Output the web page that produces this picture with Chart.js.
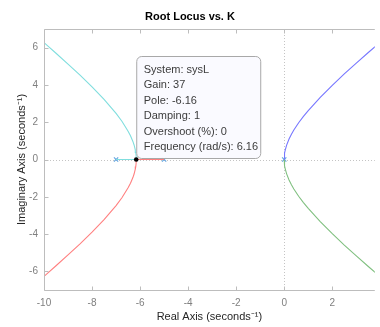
<!DOCTYPE html>
<html>
<head>
<meta charset="utf-8">
<script src="https://cdn.jsdelivr.net/npm/chart.js@4"></script>
<style>
  html, body { margin: 0; padding: 0; background: #fff; }
  #wrap { width: 380px; height: 327px; }
</style>
</head>
<body>
<div id="wrap"><canvas id="rl" width="380" height="327"></canvas></div>
<script>
// --- DATA ---
const xTicks = [-10, -8, -6, -4, -2, 0, 2];
const yTicks = [-6, -4, -2, 0, 2, 4, 6];
const poleRe = [-7, -5, 0];
const poleIm = [0, 0, 0];

// branches leaving the breakaway point towards the left
const leftRe = [-6.16, -6.165, -6.18, -6.2, -6.25, -6.3, -6.4, -6.5, -6.75, -7, -7.5, -8, -8.5, -9, -9.5, -10];
const upLeftIm = [0, 0.21, 0.38, 0.52, 0.78, 0.97, 1.27, 1.52, 2.04, 2.47, 3.23, 3.90, 4.53, 5.12, 5.70, 6.27];
const lowLeftIm = [0, -0.21, -0.38, -0.52, -0.78, -0.97, -1.27, -1.52, -2.04, -2.47, -3.23, -3.90, -4.53, -5.12, -5.70, -6.27];

// branches leaving the double pole at the origin
const rightRe = [0, 0.005, 0.02, 0.05, 0.1, 0.2, 0.3, 0.4, 0.6, 0.8, 1, 1.5, 2, 2.5, 3, 3.5, 4];
const upRightIm = [0, 0.17, 0.34, 0.54, 0.77, 1.10, 1.36, 1.58, 1.97, 2.31, 2.62, 3.33, 3.98, 4.59, 5.17, 5.74, 6.30];
const lowRightIm = [0, -0.17, -0.34, -0.54, -0.77, -1.10, -1.36, -1.58, -1.97, -2.31, -2.62, -3.33, -3.98, -4.59, -5.17, -5.74, -6.30];

// real-axis pieces between the two left poles
const cyanAxisRe = [-7, -6.16];
const redAxisRe = [-5, -6.16];

const tip = { re: -6.16, im: 0 };
const tipLines = ["System: sysL", "Gain: 37", "Pole: -6.16", "Damping: 1", "Overshoot (%): 0", "Frequency (rad/s): 6.16"];

const FONT = "'Liberation Sans', Arial, Helvetica, sans-serif";
const pts = (xs, ys) => xs.map((x, i) => ({ x, y: ys[i] }));
const line = (data, color) => ({ data, borderColor: color, borderWidth: 1.1, showLine: true, pointRadius: 0, tension: 0, fill: false });

// --- PLUGINS ---
const axesDeco = {
    id: "axesDeco",
    beforeDatasetsDraw(chart) {
        const { ctx, chartArea: a, scales: { x, y } } = chart;
        ctx.save();
        ctx.strokeStyle = "#c4c4c4";
        ctx.lineWidth = 1;
        ctx.setLineDash([1, 2]);
        const x0 = Math.round(x.getPixelForValue(0)) + 0.5, y0 = Math.round(y.getPixelForValue(0)) + 0.5;
        ctx.beginPath();
        ctx.moveTo(x0, a.top); ctx.lineTo(x0, a.bottom);
        ctx.moveTo(a.left, y0); ctx.lineTo(a.right, y0);
        ctx.stroke();
        ctx.restore();
    },
    afterDatasetsDraw(chart) {
        const { ctx, chartArea: a, scales: { x, y } } = chart;
        ctx.save();
        ctx.strokeStyle = "#bdbdbd";
        ctx.lineWidth = 1;
        const L = Math.round(a.left) + 0.5, T = Math.round(a.top) + 0.5, B = Math.round(a.bottom) + 0.5;
        ctx.beginPath();
        ctx.moveTo(a.right, T); ctx.lineTo(L, T); ctx.lineTo(L, B); ctx.lineTo(a.right, B);
        xTicks.forEach(v => {
            const px = Math.round(x.getPixelForValue(v)) + 0.5;
            ctx.moveTo(px, B); ctx.lineTo(px, B - 4);
            ctx.moveTo(px, T); ctx.lineTo(px, T + 4);
        });
        yTicks.forEach(v => {
            const py = Math.round(y.getPixelForValue(v)) + 0.5;
            ctx.moveTo(L, py); ctx.lineTo(L + 4, py);
        });
        ctx.stroke();
        ctx.restore();
    },
    afterDraw(chart) {
        const { ctx, scales: { x, y } } = chart;
        const px = x.getPixelForValue(tip.re), py = y.getPixelForValue(tip.im);
        const bx = px + 0.5, by = py - 103, bw = 124, bh = 102;
        ctx.save();
        ctx.beginPath();
        ctx.roundRect(bx, by, bw, bh, 5);
        ctx.fillStyle = "rgba(250,250,255,0.95)";
        ctx.fill();
        ctx.strokeStyle = "#a8a8a8";
        ctx.lineWidth = 1;
        ctx.stroke();
        ctx.fillStyle = "#3c3c3c";
        ctx.font = "11px " + FONT;
        ctx.textBaseline = "middle";
        tipLines.forEach((t, i) => ctx.fillText(t, bx + 7, by + 13.5 + i * 15.4));
        ctx.beginPath();
        ctx.arc(px, py, 2.3, 0, Math.PI * 2);
        ctx.fillStyle = "#000";
        ctx.fill();
        ctx.restore();
    }
};

// --- CHART ---
new Chart(document.getElementById("rl"), {
    type: "scatter",
    data: {
        datasets: [
            line(pts(leftRe, upLeftIm), "#80dede"),
            line(pts(leftRe, lowLeftIm), "#ff8080"),
            line(pts(rightRe, upRightIm), "#7777ff"),
            line(pts(rightRe, lowRightIm), "#80c080"),
            line(pts(cyanAxisRe, [0, 0]), "#80dede"),
            line(pts(redAxisRe, [0, 0]), "#ff8080"),
            { data: pts(poleRe, poleIm), pointStyle: "crossRot", pointRadius: 3, borderColor: "#66a6e0", borderWidth: 1.2, showLine: false }
        ]
    },
    options: {
        responsive: false,
        animation: false,
        events: [],
        layout: { padding: 0 },
        plugins: {
            legend: { display: false },
            tooltip: { enabled: false },
            title: { display: true, text: "Root Locus vs. K", color: "#000", font: { family: FONT, size: 11, weight: "bold" }, padding: { top: 10, bottom: 5.8 } }
        },
        scales: {
            x: {
                type: "linear", min: -10, max: 3.77,
                grid: { display: false, drawTicks: false, tickLength: 0 }, border: { display: false },
                afterBuildTicks: s => { s.ticks = xTicks.map(value => ({ value })); },
                afterFit: s => { s.height = 37; },
                ticks: { color: "#7f7f7f", font: { family: FONT, size: 10 }, padding: 7, maxRotation: 0 },
                title: { display: true, text: "Real Axis (seconds⁻¹)", color: "#262626", font: { family: FONT, size: 11 }, padding: { top: 0, bottom: 3.4 } }
            },
            y: {
                type: "linear", min: -7, max: 7,
                grid: { display: false, drawTicks: false, tickLength: 0 }, border: { display: false },
                afterBuildTicks: s => { s.ticks = yTicks.map(value => ({ value })); },
                afterFit: s => { s.width = 44; },
                ticks: { color: "#7f7f7f", font: { family: FONT, size: 10 }, padding: 6 },
                title: { display: true, text: "Imaginary Axis (seconds⁻¹)", color: "#262626", font: { family: FONT, size: 11 }, padding: { top: 15, bottom: 0 } }
            }
        }
    },
    plugins: [axesDeco]
});
</script>
</body>
</html>
